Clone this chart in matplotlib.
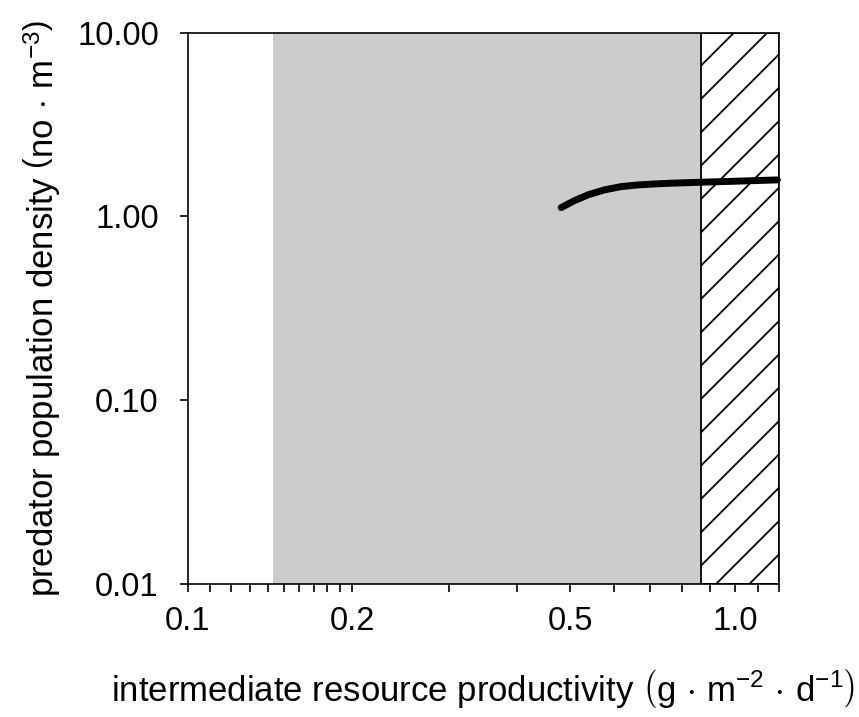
import numpy as np
import matplotlib
matplotlib.use("Agg")
import matplotlib.pyplot as plt
from matplotlib.ticker import FixedLocator, NullLocator

plt.rcParams['font.family'] = ['Liberation Sans', 'DejaVu Sans']
plt.rcParams['mathtext.fontset'] = 'custom'
plt.rcParams['mathtext.rm'] = 'Liberation Sans'
plt.rcParams['mathtext.it'] = 'Liberation Sans:italic'
plt.rcParams['hatch.linewidth'] = 1.3

# predator density along productivity gradient
productivity = [0.481, 0.509, 0.538, 0.577, 0.619, 0.664, 0.712, 0.764, 0.868, 1.0, 1.194]
predator = [1.117, 1.219, 1.309, 1.394, 1.453, 1.483, 1.502, 1.516, 1.535, 1.554, 1.58]

# shaded zones
grey_zone = (0.143, 0.867)
hatch_zone = (0.867, 1.2)

x_major = [0.1, 0.2, 0.5, 1.0]
x_major_labels = ["0.1", "0.2", "0.5", "1.0"]
x_minor = [0.11, 0.12, 0.13, 0.14, 0.15, 0.16, 0.17, 0.18, 0.19,
           0.3, 0.4, 0.6, 0.7, 0.8, 0.9, 1.1, 1.2]
y_major = [0.01, 0.1, 1.0, 10.0]
y_major_labels = ["0.01", "0.10", "1.00", "10.00"]

fig = plt.figure(figsize=(8.59, 7.17), dpi=100)
ax = fig.add_axes([0.2185, 0.1855, 0.6878, 0.769])

ax.set_xscale('log')
ax.set_yscale('log')
ax.set_xlim(0.1, 1.2)
ax.set_ylim(0.01, 10)

ax.axvspan(*grey_zone, facecolor='#cccccc', edgecolor='none', zorder=0)
ax.axvspan(*hatch_zone, facecolor='white', edgecolor='black', hatch='/',
           linewidth=1.3, zorder=1)

ax.plot(productivity, predator, color='black', lw=5,
        solid_capstyle='round', zorder=3, clip_on=False)

ax.xaxis.set_major_locator(FixedLocator(x_major))
ax.xaxis.set_minor_locator(FixedLocator(x_minor))
ax.set_xticklabels(x_major_labels)
ax.xaxis.set_minor_formatter(plt.NullFormatter())
ax.yaxis.set_major_locator(FixedLocator(y_major))
ax.yaxis.set_minor_locator(NullLocator())
ax.set_yticklabels(y_major_labels)

ax.tick_params(axis='both', which='both', direction='out', length=5.8,
               width=1.2, labelsize=23.5, colors='black')
ax.tick_params(axis='x', which='major', pad=10)
ax.tick_params(axis='y', which='major', pad=15)

for s in ax.spines.values():
    s.set_linewidth(1.2)
    s.set_color('black')
    s.set_zorder(4)

ax.set_xlabel(r"intermediate resource productivity $\left(\mathrm{g\,\cdot\,m^{-2}\,\cdot\,d^{-1}}\right)$",
              fontsize=25, labelpad=22)
ax.set_ylabel(r"predator population density $\left(\mathrm{no\,\cdot\,m^{-3}}\right)$",
              fontsize=25, labelpad=10)

fig.savefig("out.png", dpi=100)
